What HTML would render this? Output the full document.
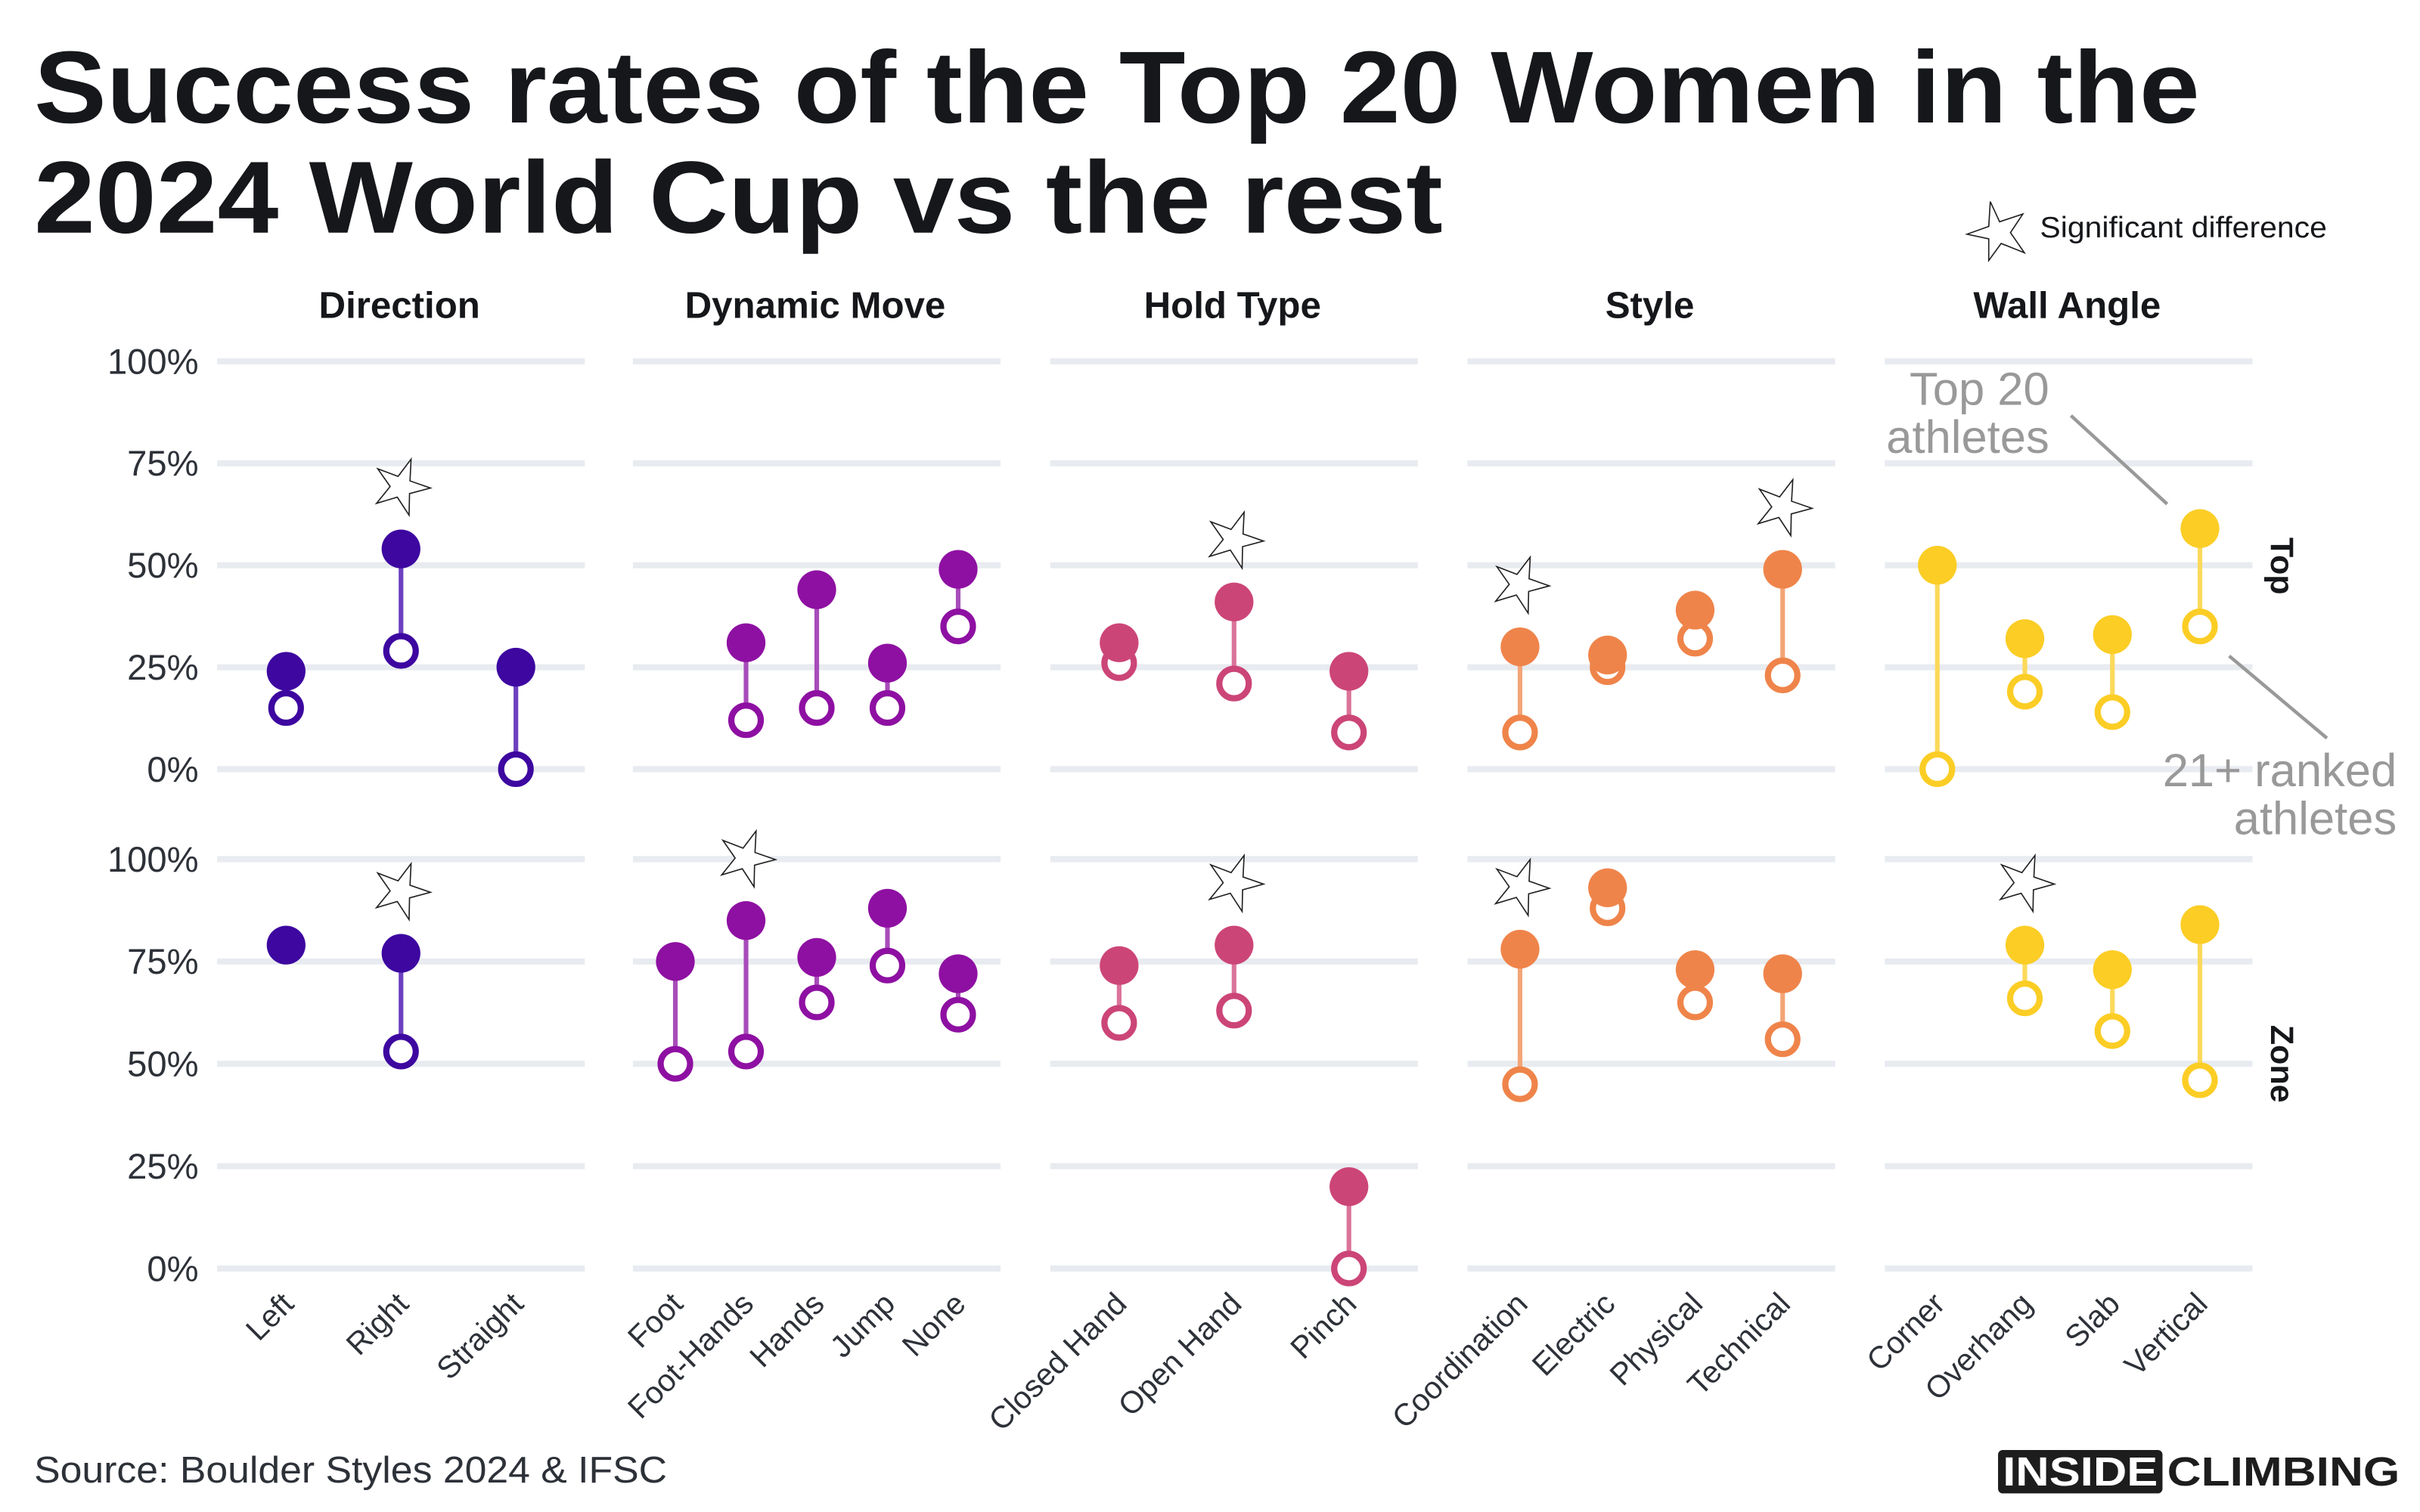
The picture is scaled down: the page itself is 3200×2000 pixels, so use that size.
<!DOCTYPE html>
<html><head><meta charset="utf-8"><style>
html,body{margin:0;padding:0;background:#fff;}
svg{display:block;font-family:"Liberation Sans",sans-serif;}
</style></head><body>
<svg id="chart" width="3200" height="2000" viewBox="0 0 1560 975" xmlns="http://www.w3.org/2000/svg">
<g>
<text x="22" y="79" font-size="66" font-weight="bold" fill="#15171a" textLength="1396" lengthAdjust="spacingAndGlyphs">Success rates of the Top 20 Women in the</text>
<text x="22" y="150" font-size="66" font-weight="bold" fill="#15171a" textLength="908" lengthAdjust="spacingAndGlyphs">2024 World Cup vs the rest</text>
</g>
<g>
<polygon points="1283,130 1289,143 1304,138 1296,150 1305,163 1290,157 1282,168 1282,154 1268,151 1282,146" fill="#fff" stroke="#222" stroke-width="0.8"/>
<text x="1315" y="153" font-size="19" fill="#15171a" textLength="185" lengthAdjust="spacingAndGlyphs">Significant difference</text>
</g>
<g id="plot"></g>
<g>
<text x="1321" y="261" font-size="30" fill="#999" text-anchor="end">Top 20</text>
<text x="1321" y="292" font-size="30" fill="#999" text-anchor="end">athletes</text>
<line x1="1335" y1="268" x2="1397" y2="325" stroke="#999" stroke-width="2.2"/>
<text x="1545" y="507" font-size="30" fill="#999" text-anchor="end">21+ ranked</text>
<text x="1545" y="538" font-size="30" fill="#999" text-anchor="end">athletes</text>
<line x1="1437" y1="423" x2="1500" y2="476" stroke="#999" stroke-width="2.2"/>
</g>
<text transform="translate(1464,365) rotate(90)" font-size="21" font-weight="bold" text-anchor="middle" fill="#15171a">Top</text>
<text transform="translate(1464,686) rotate(90)" font-size="21" font-weight="bold" text-anchor="middle" fill="#15171a">Zone</text>
<text x="22" y="956" font-size="24" fill="#2d3138" textLength="408" lengthAdjust="spacingAndGlyphs">Source: Boulder Styles 2024 &amp; IFSC</text>
<g>
<rect x="1288" y="935" width="106" height="28" rx="3" fill="#1d1d1d"/>
<text x="1341" y="958" font-size="26" font-weight="bold" fill="#fff" text-anchor="middle" textLength="100" lengthAdjust="spacingAndGlyphs">INSIDE</text>
<text x="1397" y="958" font-size="26" font-weight="bold" fill="#1d1d1d" textLength="150" lengthAdjust="spacingAndGlyphs">CLIMBING</text>
</g>
</svg>
<script>
const panels = ["Direction","Dynamic Move","Hold Type","Style","Wall Angle"];
const colors = ["#3d07a0","#8e10a2","#cc4577","#ef844a","#fbcd25"];
const lineColors = ["#6c3fbf","#a84cba","#db7399","#f4a577","#fcd95a"];
const categories = [
  ["Left","Right","Straight"],
  ["Foot","Foot-Hands","Hands","Jump","None"],
  ["Closed Hand","Open Hand","Pinch"],
  ["Coordination","Electric","Physical","Technical"],
  ["Corner","Overhang","Slab","Vertical"]
];
const topTop20 = [[24,54,25],[null,31,44,26,49],[31,41,24],[30,28,39,49],[50,32,33,59]];
const topRest  = [[15,29,0],[null,12,15,15,35],[26,21,9],[9,25,32,23],[0,19,14,35]];
const zoneTop20 = [[79,77,null],[75,85,76,88,72],[74,79,20],[78,93,73,72],[null,79,73,84]];
const zoneRest  = [[79,53,null],[50,53,65,74,62],[60,63,0],[45,88,65,56],[null,66,58,46]];
const topSig  = [[0,1,0],[0,0,0,0,0],[0,1,0],[1,0,0,1],[0,0,0,0]];
const zoneSig = [[0,1,0],[0,1,0,0,0],[0,1,0],[1,0,0,0],[0,1,0,0]];
const yTicks = [0,25,50,75,100];
const yTickLabels = ["0%","25%","50%","75%","100%"];

const NS="http://www.w3.org/2000/svg";
const plot=document.getElementById('plot');
const panelX0=[140,408,677,946,1215], panelW=237;
const rows=[{y100:233,y0:496},{y100:554,y0:818}];
function yScale(r,v){return rows[r].y0+(rows[r].y100-rows[r].y0)*v/100;}
function xScale(p,i){const n=categories[p].length;const u=panelW/(n-1+1.2);return panelX0[p]+u*(0.6+i);}
function mk(tag,attrs){const e=document.createElementNS(NS,tag);for(const k in attrs)e.setAttribute(k,attrs[k]);plot.appendChild(e);return e;}
function star(cx,cy){
  let pts=[];for(let k=0;k<10;k++){const a=-Math.PI/2+k*Math.PI/5+0.35;const r=k%2?7:19;pts.push((cx+r*Math.cos(a)).toFixed(1)+','+(cy+r*Math.sin(a)).toFixed(1));}
  const s=mk('polygon',{points:pts.join(' '),fill:'#fff',stroke:'#222','stroke-width':0.8});
  
  
}
for(let r=0;r<2;r++){
  yTicks.forEach((t,j)=>{
    const tx=mk('text',{x:128,y:yScale(r,t)+8,'font-size':23,fill:'#2d3138','text-anchor':'end'});
    tx.textContent=yTickLabels[j];
    
    
    for(let p=0;p<5;p++){
      const g=mk('line',{x1:panelX0[p],x2:panelX0[p]+panelW,y1:yScale(r,t),y2:yScale(r,t),stroke:'#e8ebf0','stroke-width':4});
      
      
    }
  });
}
for(let p=0;p<5;p++){
  const h=mk('text',{x:panelX0[p]+panelW/2-1,y:205,'font-size':24,'font-weight':'bold',fill:'#15171a','text-anchor':'middle'});
  h.textContent=panels[p];
  
  
  categories[p].forEach((c,i)=>{
    const x=xScale(p,i);
    const t=mk('text',{transform:`translate(${x+6},${842}) rotate(-45)`,'font-size':20,fill:'#2d3138','text-anchor':'end'});
    t.textContent=c;
    
    
    const sets=[[topTop20,topRest,topSig],[zoneTop20,zoneRest,zoneSig]];
    for(let r=0;r<2;r++){
      const a=sets[r][0][p][i], b=sets[r][1][p][i];
      if(a==null)continue;
      const ya=yScale(r,a), yb=yScale(r,b);
      const ln=mk('line',{x1:x,x2:x,y1:ya,y2:yb,stroke:lineColors[p],'stroke-width':3});
      
      
      const o=mk('circle',{cx:x,cy:yb,r:9.5,fill:'#fff',stroke:colors[p],'stroke-width':4});
      
      
      const f=mk('circle',{cx:x,cy:ya,r:12.5,fill:colors[p]});
      
      
      if(sets[r][2][p][i]) star(x,Math.min(ya,yb)-40);
    }
  });
}
</script>
</body></html>
